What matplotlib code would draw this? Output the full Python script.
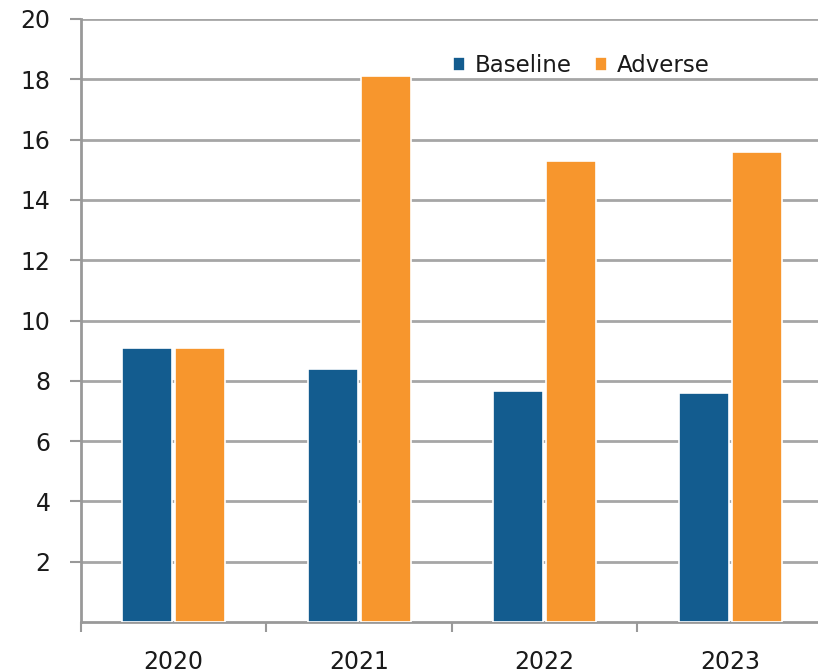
import matplotlib
matplotlib.use("Agg")
import matplotlib.pyplot as plt
import numpy as np

years = ["2020", "2021", "2022", "2023"]
baseline = [9.1, 8.4, 7.65, 7.6]
adverse = [9.1, 18.1, 15.3, 15.6]
series_names = ["Baseline", "Adverse"]
yticks = [2, 4, 6, 8, 10, 12, 14, 16, 18, 20]

plt.rcParams['font.family'] = ['DejaVu Sans']

fig = plt.figure(figsize=(8.18, 6.71), dpi=100)
ax = fig.add_axes([0.099, 0.073, 0.907, 0.8987])

x = np.arange(len(years))
w = 0.27
off = 0.143
blue = "#135c8f"
orange = "#f7962d"
ax.bar(x - off, baseline, width=w, color=blue, edgecolor="white", linewidth=1.2, label=series_names[0], zorder=3)
ax.bar(x + off, adverse, width=w, color=orange, edgecolor="white", linewidth=1.2, label=series_names[1], zorder=3)

ax.set_ylim(0, 20)
ax.set_xlim(-0.5, len(years) - 0.5)
ax.set_yticks(yticks)
ax.set_yticklabels([str(t) for t in yticks])
ax.yaxis.grid(True, color="#a6a6a6", linewidth=2, zorder=0)
ax.set_axisbelow(True)

ax.set_xticks(x)
ax.set_xticklabels(years)
ax.set_xticks(np.arange(-0.5, len(years), 1.0), minor=True)
ax.tick_params(axis='x', which='major', length=0, pad=20, labelsize=17, labelcolor="#1a1a1a")
ax.tick_params(axis='x', which='minor', length=7, width=1.5, color="#999999")
ax.tick_params(axis='y', length=8, width=1.5, color="#999999", labelsize=17, pad=14, labelcolor="#1a1a1a")

for s in ["top", "right"]:
    ax.spines[s].set_visible(False)
for s in ["left", "bottom"]:
    ax.spines[s].set_color("#999999")
    ax.spines[s].set_linewidth(2)

leg = ax.legend(loc="center", bbox_to_anchor=(0.674, 18.45 / 20), ncol=2, frameon=False,
                fontsize=16.5, handlelength=0.55, handleheight=0.55, handletextpad=0.4,
                columnspacing=1.0, borderpad=0, labelcolor="#1a1a1a")
fig.savefig("out.png", dpi=100, facecolor="white")
